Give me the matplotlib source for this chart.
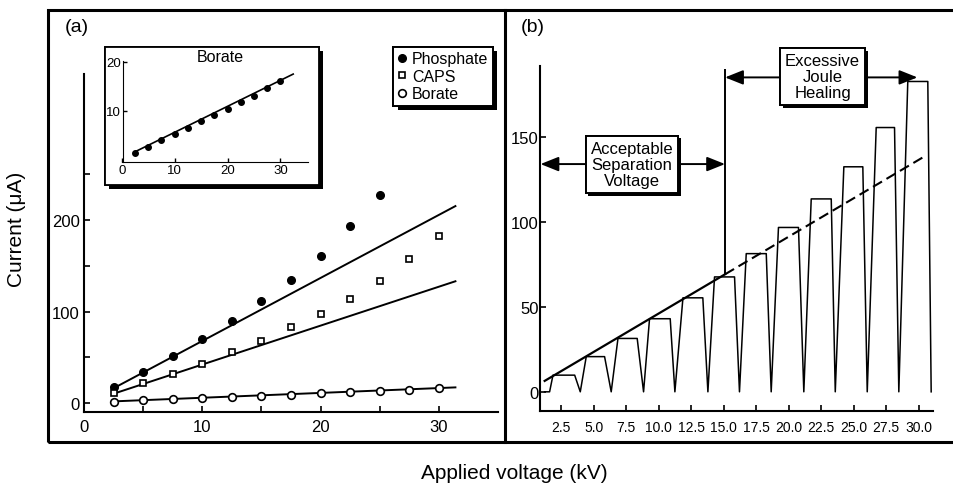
import matplotlib
matplotlib.use('Agg')
import matplotlib.pyplot as plt
import numpy as np
from matplotlib.patches import Rectangle
from matplotlib.lines import Line2D
import matplotlib.patheffects as pe

plt.rcParams['font.family'] = ['Liberation Sans', 'DejaVu Sans']

W, H = 954, 485

# ---- data, panel (a)
volts = [2.5, 5.0, 7.5, 10.0, 12.5, 15.0, 17.5, 20.0, 22.5, 25.0, 27.5, 30.0]
phosphate = [17, 34, 51, 70, 90, 112, 135, 161, 194, 228]
caps = [10.5, 21.7, 32, 43, 56, 68, 83, 97.5, 114, 133, 157, 183]
borate = [1.3, 2.7, 4.0, 5.2, 6.5, 7.8, 9.1, 10.3, 11.8, 13.1, 14.6, 16.1]
# linear fits (slope, intercept)
phosphate_fit = (6.9, -1.25)
caps_fit = (4.26, -0.65)
borate_fit = (0.53, 0.3)
fit_range = (2.5, 31.4)
inset_fit_range = (2.5, 32.4)

# ---- data, panel (b): current steps
step_level = [9.8, 20.7, 31.4, 43.0, 55.3, 67.6, 81.3, 96.7, 113.5, 132.4, 155.5, 182.6]
step_on = [1.86, 4.42, 6.86, 9.29, 11.86, 14.29, 16.73, 19.21, 21.73, 24.24, 26.73, 29.16]
step_off = [3.53, 5.83, 8.34, 10.88, 13.39, 15.83, 18.27, 20.75, 23.27, 25.70, 28.14, 30.70]
step_zero = [3.96, 6.34, 8.83, 11.24, 13.78, 16.21, 18.65, 21.16, 23.58, 26.04, 28.47, 30.96]
wave_start = [1.22, 1.6]
ramp_fit = (4.52, 0.9)
ramp_range = (1.22, 30.6)
limit_kv = 15.1
b_ticks = [2.5, 5.0, 7.5, 10.0, 12.5, 15.0, 17.5, 20.0, 22.5, 25.0, 27.5, 30.0]


def box(l, t, r, b):
    return [l / W, 1 - b / H, (r - l) / W, (b - t) / H]


def shadow(off=3):
    return [pe.withSimplePatchShadow(offset=(off, -off), shadow_rgbFace='black', alpha=1.0), pe.Normal()]


fig = plt.figure(figsize=(W / 100, H / 100), dpi=100)

# outer frames
fig.add_artist(Rectangle((48 / W, 1 - 442.5 / H), 915 / W, 431.5 / H, fill=False,
                         lw=2.2, ec='black', transform=fig.transFigure))
fig.add_artist(Line2D([505 / W, 505 / W], [1 - 442.5 / H, 1 - 11 / H], lw=2.2, color='black',
                      transform=fig.transFigure))

# ---------------- panel (a)
ax = fig.add_axes(box(84, 75, 498, 413))
ax.set_xlim(0, 35)
ax.set_ylim(-10, 360)
for s in ['top', 'right']:
    ax.spines[s].set_visible(False)
for s in ['left', 'bottom']:
    ax.spines[s].set_linewidth(1.5)
ax.set_xticks([0, 10, 20, 30])
ax.set_xticks([5, 15, 25], minor=True)
ax.set_yticks([0, 100, 200])
ax.set_yticks([50, 150, 250], minor=True)
ax.tick_params(which='both', direction='in', length=4, width=1.2, labelsize=12)
ax.tick_params(axis='x', pad=5)
ax.tick_params(axis='y', pad=3)

ax.plot(volts[:len(phosphate)], phosphate, 'o', color='black', ms=5.5, label='Phosphate', zorder=3)
ax.plot(volts, caps, 's', mfc='white', mec='black', mew=1.2, ms=5, label='CAPS', zorder=3)
ax.plot(volts, borate, 'o', mfc='white', mec='black', mew=1.2, ms=5.5, label='Borate', zorder=3)
xf = np.array(fit_range)
for slope, icpt in [phosphate_fit, caps_fit, borate_fit]:
    ax.plot(xf, slope * xf + icpt, color='black', lw=1.4)

leg = ax.legend(loc='upper right', bbox_to_anchor=(493 / W, 1 - 47.7 / H), bbox_transform=fig.transFigure,
                borderaxespad=0, fontsize=11.5, handlelength=0.5, handletextpad=0.35,
                labelspacing=0.15, borderpad=0.3, fancybox=False, framealpha=1, edgecolor='black')
leg.get_frame().set_linewidth(1.4)
leg.get_frame().set_path_effects(shadow(3))

fig.text(76.7 / W, 1 - 28 / H, '(a)', fontsize=14, ha='center', va='center')

# inset
fr = Rectangle((105 / W, 1 - 186 / H), 214 / W, 138.3 / H, fc='white', ec='black', lw=1.3,
               transform=fig.transFigure, zorder=1)
fr.set_path_effects(shadow(3))
fig.add_artist(fr)
ins = fig.add_axes(box(121.8, 61.7, 308, 162.7), zorder=2)
ins.patch.set_alpha(0)
ins.set_xlim(0, 35.2)
ins.set_ylim(-0.4, 20.2)
for s in ['top', 'right']:
    ins.spines[s].set_visible(False)
ins.spines['left'].set_position(('data', 0.3))
ins.set_xticks([0, 10, 20, 30])
ins.set_yticks([10, 20])
ins.tick_params(direction='in', length=3, width=1, labelsize=9.5, pad=1.5)
ins.plot(volts, borate, 'o', color='black', ms=4)
xi = np.array(inset_fit_range)
ins.plot(xi, borate_fit[0] * xi + borate_fit[1], color='black', lw=1.2)
fig.text(220 / W, 1 - 57 / H, 'Borate', fontsize=11.5, ha='center', va='center', zorder=3)

# ---------------- panel (b)
bx = fig.add_axes(box(540.5, 66.5, 933, 411.5))
bx.set_xlim(0.9, 31.1)
bx.set_ylim(-11, 192)
for s in ['top', 'right']:
    bx.spines[s].set_visible(False)
for s in ['left', 'bottom']:
    bx.spines[s].set_linewidth(1.5)
bx.set_xticks(b_ticks)
bx.set_xticklabels(['%.1f' % v for v in b_ticks])
bx.set_yticks([0, 50, 100, 150])
bx.tick_params(direction='in', length=4, width=1.2)
bx.tick_params(axis='x', labelsize=10, pad=6.5)
bx.tick_params(axis='y', labelsize=12, pad=1.5)

wave_x = list(wave_start)
wave_y = [0] * len(wave_start)
for on, off, zero, lvl in zip(step_on, step_off, step_zero, step_level):
    wave_x += [on, off, zero]
    wave_y += [lvl, lvl, 0]
bx.plot(wave_x, wave_y, color='black', lw=1.1)

xs = np.array([ramp_range[0], limit_kv])
bx.plot(xs, ramp_fit[0] * xs + ramp_fit[1], color='black', lw=1.6)
xd = np.array([limit_kv, ramp_range[1]])
bx.plot(xd, ramp_fit[0] * xd + ramp_fit[1], color='black', lw=1.5, dashes=(5, 2.5))
bx.vlines(limit_kv, ramp_fit[0] * limit_kv + ramp_fit[1], 190, color='black', lw=1.4)

arrow = dict(arrowstyle='<|-|>,head_length=0.55,head_width=0.22', color='black', lw=1.4,
             shrinkA=0, shrinkB=0, mutation_scale=20)
bx.annotate('', xy=(0.9, 134), xytext=(limit_kv, 134), arrowprops=arrow, annotation_clip=False)
bx.annotate('', xy=(limit_kv, 185), xytext=(29.9, 185), arrowprops=arrow, annotation_clip=False)

t1 = bx.text(7.93, 133.8, 'Acceptable\nSeparation\nVoltage', fontsize=12, ha='center', va='center',
             linespacing=1.1, zorder=5,
             bbox=dict(boxstyle='square,pad=0.3', fc='white', ec='black', lw=1.4))
t1.get_bbox_patch().set_path_effects(shadow(2))
t2 = bx.text(22.6, 185.4, 'Excessive\nJoule\nHealing', fontsize=12, ha='center', va='center',
             linespacing=1.1, zorder=5,
             bbox=dict(boxstyle='square,pad=0.3', fc='white', ec='black', lw=1.4))
t2.get_bbox_patch().set_path_effects(shadow(2))

fig.text(533 / W, 1 - 28 / H, '(b)', fontsize=14, ha='center', va='center')

fig.text(17 / W, 1 - 229 / H, 'Current (\u03bcA)', fontsize=15, rotation=90, ha='center', va='center')
fig.text(514 / W, 1 - 474 / H, 'Applied voltage (kV)', fontsize=15, ha='center', va='center')

fig.savefig('out.png', dpi=100)
